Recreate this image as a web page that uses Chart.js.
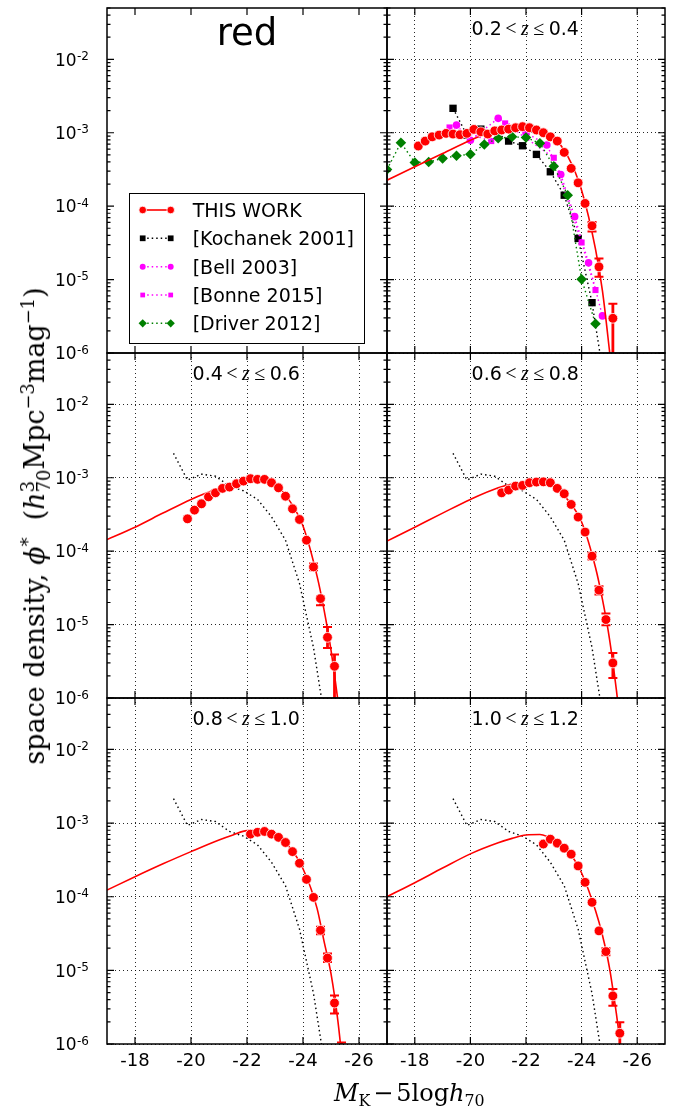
<!DOCTYPE html>
<html>
<head>
<meta charset="utf-8">
<title>red – luminosity function</title>
<script src="https://cdn.jsdelivr.net/npm/chart.js"></script>
<style>
html,body{margin:0;padding:0;background:#fff;}
#fig{position:relative;width:678px;height:1115px;overflow:hidden;background:#fff;}
#fig canvas{position:absolute;}
.axlab{position:absolute;font-family:'DejaVu Serif',serif;color:#000;white-space:nowrap;line-height:1;z-index:5;}
#ylab{font-size:27px;left:36px;top:526px;transform:translate(-50%,-50%) rotate(-90deg);}
#xlab{font-size:24px;left:334px;top:1081px;}
.sup{font-size:0.66em;position:relative;top:-0.55em;}
.sub{font-size:0.66em;position:relative;top:0.3em;}
.stk{display:inline-block;font-size:18px;line-height:16px;vertical-align:-6px;}
.op{margin:0 0.12em;}
</style>
</head>
<body>
<div id="fig">
  <div id="ylab" class="axlab">space density, <i>ϕ</i><span class="sup">*</span>&nbsp;&nbsp;(<i>h</i><span class="stk">3<br>70</span>Mpc<span class="sup">−3</span>mag<span class="sup">−1</span>)</div>
  <div id="xlab" class="axlab"><i>M</i><span class="sub">K</span><span class="op">−</span>5log<i>h</i><span class="sub">70</span></div>
</div>
<script>
// ================= DATA =================
const xTickValues = [-18, -20, -22, -24, -26];
const xTickLabels = ['-18', '-20', '-22', '-24', '-26'];
const yTickValues = [1e-6, 1e-5, 1e-4, 1e-3, 1e-2];
const yTickExponents = ['-6', '-5', '-4', '-3', '-2'];
const xLimits = [-27, -17];
const yLimits = [1e-6, 0.05];

const colourTitle = 'red';
const zLow  = ['0.2', '0.4', '0.6', '0.8', '1.0'];
const zHigh = ['0.4', '0.6', '0.8', '1.0', '1.2'];
const legendLabels = ['THIS WORK', '[Kochanek 2001]', '[Bell 2003]', '[Bonne 2015]', '[Driver 2012]'];

// ---- THIS WORK, 0.2 < z <= 0.4
const tw02X = [-18.125,-18.375,-18.625,-18.875,-19.125,-19.375,-19.625,-19.875,-20.125,-20.375,-20.625,-20.875,-21.125,-21.375,-21.625,-21.875,-22.125,-22.375,-22.625,-22.875,-23.125,-23.375,-23.625,-23.875,-24.125,-24.375,-24.625,-25.125];
const tw02Y = [6.6e-4,7.7e-4,8.8e-4,9.3e-4,9.8e-4,9.6e-4,9.4e-4,9.8e-4,1.11e-3,1.03e-3,9.6e-4,1.06e-3,1.09e-3,1.12e-3,1.17e-3,1.21e-3,1.17e-3,1.09e-3,1.0e-3,8.8e-4,7.7e-4,5.4e-4,3.27e-4,2.08e-4,1.09e-4,5.4e-5,1.49e-5,2.97e-6];
const err02X  = [-24.375, -24.625, -25.125];
const err02Hi = [6.1e-5, 1.93e-5, 4.7e-6];
const err02Lo = [4.5e-5, 1.09e-5, 5e-7];
const fit02X = [-17,-18,-19,-20,-20.5,-21,-21.5,-22,-22.5,-23,-23.5,-24,-24.5,-24.75,-25,-25.25];
const fit02Y = [2.26e-4,3.44e-4,5.2e-4,7.9e-4,9.4e-4,1.04e-3,1.1e-3,1.12e-3,1.06e-3,8.6e-4,4.8e-4,1.65e-4,2.6e-5,7e-6,1.1e-6,1.5e-7];

// ---- THIS WORK, 0.4 < z <= 0.6
const tw04X = [-19.875,-20.125,-20.375,-20.625,-20.875,-21.125,-21.375,-21.625,-21.875,-22.125,-22.375,-22.625,-22.875,-23.125,-23.375,-23.625,-23.875,-24.125,-24.375,-24.625,-24.875,-25.125];
const tw04Y = [2.76e-4,3.62e-4,4.42e-4,5.5e-4,6.24e-4,7.16e-4,7.46e-4,8.28e-4,9.0e-4,9.7e-4,9.5e-4,9.5e-4,8.55e-4,7.3e-4,5.6e-4,3.78e-4,2.7e-4,1.41e-4,6.1e-5,2.26e-5,6.7e-6,2.7e-6];
const err04X  = [-24.375, -24.625, -24.875, -25.125];
const err04Hi = [6.8e-5, 2.43e-5, 9.3e-6, 3.9e-6];
const err04Lo = [5.5e-5, 1.84e-5, 4.8e-6, 5e-7];
const fit04X = [-17,-18,-19,-20,-20.5,-21,-21.5,-22,-22.5,-23,-23.5,-24,-24.5,-24.75,-25,-25.25,-25.5];
const fit04Y = [1.44e-4,2.12e-4,3.3e-4,5.07e-4,6.1e-4,7.2e-4,8.3e-4,9.2e-4,9.5e-4,8.2e-4,5.0e-4,2.2e-4,4.6e-5,1.6e-5,4.5e-6,9e-7,1.5e-7];

// ---- THIS WORK, 0.6 < z <= 0.8
const tw06X = [-21.125,-21.375,-21.625,-21.875,-22.125,-22.375,-22.625,-22.875,-23.125,-23.375,-23.625,-23.875,-24.125,-24.375,-24.625,-24.875,-25.125];
const tw06Y = [6.24e-4,6.8e-4,7.7e-4,7.86e-4,8.55e-4,8.73e-4,8.8e-4,8.55e-4,7.16e-4,6.05e-4,4.33e-4,2.91e-4,1.82e-4,8.55e-5,2.94e-5,1.17e-5,3.0e-6];
const err06X  = [-24.375, -24.625, -24.875, -25.125];
const err06Hi = [9.5e-5, 3.33e-5, 1.41e-5, 4.1e-6];
const err06Lo = [7.7e-5, 2.57e-5, 9.8e-6, 1.87e-6];
const fit06X = [-17,-18,-19,-20,-21,-21.5,-22,-22.5,-23,-23.5,-24,-24.5,-24.75,-25,-25.25,-25.5];
const fit06Y = [1.37e-4,2.12e-4,3.3e-4,5.07e-4,7.3e-4,8.2e-4,8.7e-4,8.6e-4,7.5e-4,5.0e-4,2.5e-4,6.0e-5,2.2e-5,6.5e-6,1.3e-6,2e-7];

// ---- THIS WORK, 0.8 < z <= 1.0
const tw08X = [-22.125,-22.375,-22.625,-22.875,-23.125,-23.375,-23.625,-23.875,-24.125,-24.375,-24.625,-24.875,-25.125,-25.375];
const tw08Y = [7.08e-4,7.5e-4,7.7e-4,7.08e-4,6.4e-4,5.45e-4,4.1e-4,2.85e-4,1.72e-4,9.8e-5,3.5e-5,1.47e-5,3.6e-6,4e-7];
const err08X  = [-24.625, -24.875, -25.125, -25.375];
const err08Hi = [3.9e-5, 1.69e-5, 4.56e-6, 1.05e-6];
const err08Lo = [3.1e-5, 1.3e-5, 2.6e-6, 1e-7];
const fit08X = [-17,-18,-19,-20,-21,-21.5,-22,-22.5,-23,-23.5,-24,-24.5,-24.75,-25,-25.25,-25.5];
const fit08Y = [1.23e-4,1.87e-4,2.8e-4,4.1e-4,5.9e-4,6.9e-4,7.9e-4,7.8e-4,6.9e-4,4.8e-4,2.4e-4,7e-5,2.5e-5,9e-6,2e-6,2.5e-7];

// ---- THIS WORK, 1.0 < z <= 1.2
const tw10X = [-22.625,-22.875,-23.125,-23.375,-23.625,-23.875,-24.125,-24.375,-24.625,-24.875,-25.125,-25.375];
const tw10Y = [5.2e-4,6.05e-4,5.34e-4,4.56e-4,3.78e-4,2.62e-4,1.57e-4,8.4e-5,3.44e-5,1.8e-5,4.5e-6,1.4e-6];
const err10X  = [-24.875, -25.125, -25.375];
const err10Hi = [2.0e-5, 5.6e-6, 1.97e-6];
const err10Lo = [1.6e-5, 3.3e-6, 5e-7];
const fit10X = [-17,-18,-19,-20,-21,-21.5,-22,-22.5,-22.75,-23,-23.5,-24,-24.5,-24.75,-25,-25.25,-25.5];
const fit10Y = [1.0e-4,1.55e-4,2.45e-4,3.82e-4,5.4e-4,6.2e-4,6.9e-4,7.0e-4,6.6e-4,5.8e-4,4.2e-4,2.1e-4,6.5e-5,3.0e-5,1.1e-5,2.6e-6,5e-7];

// ---- literature (local) luminosity functions
const kochX = [-19.375,-19.875,-20.375,-20.875,-21.375,-21.875,-22.375,-22.875,-23.375,-23.875,-24.375,-24.875];
const kochY = [2.15e-3,9.3e-4,1.12e-3,1.05e-3,7.7e-4,6.65e-4,5.07e-4,2.94e-4,1.41e-4,3.63e-5,4.85e-6,3e-7];
const bellX = [-19.5,-20.0,-21.0,-22.0,-22.75,-23.25,-23.75,-24.25,-24.75];
const bellY = [1.27e-3,7.9e-4,1.57e-3,1.0e-3,6.8e-4,2.7e-4,7.2e-5,1.69e-5,3.2e-6];
const bonneX = [-19.25,-20.75,-21.25,-23.0,-24.0,-24.5];
const bonneY = [1.18e-3,7.7e-4,1.34e-3,4.56e-4,3.2e-5,7.2e-6];
const driverX = [-17.0,-17.5,-18.0,-18.5,-19.0,-19.5,-20.0,-20.5,-21.0,-21.5,-22.0,-22.5,-23.0,-23.5,-24.0,-24.5];
const driverY = [3.16e-4,7.3e-4,3.94e-4,4.0e-4,4.47e-4,4.86e-4,5.1e-4,6.9e-4,8.4e-4,8.8e-4,8.6e-4,7.2e-4,3.5e-4,1.41e-4,1.01e-5,2.5e-6];

// ================= STYLE / LAYOUT =================
const RED = '#ff0000', MAG = '#ff00ff', GRN = '#008000', BLK = '#000000';
const SERIES = [
  {color: RED, pointStyle: 'circle',  r: 4.9, edge: '#ffffff', edgeW: 0.8, dash: [],       lw: 1.6},
  {color: BLK, pointStyle: 'rect',    r: 5.2, edge: BLK,       edgeW: 0,   dash: [1.5, 3], lw: 1.4},
  {color: MAG, pointStyle: 'circle',  r: 3.8, edge: MAG,       edgeW: 0,   dash: [1.5, 3], lw: 1.4},
  {color: MAG, pointStyle: 'rect',    r: 4.3, edge: MAG,       edgeW: 0,   dash: [1.5, 3], lw: 1.4},
  {color: GRN, pointStyle: 'rectRot', r: 5.3, edge: GRN,       edgeW: 0,   dash: [1.5, 3], lw: 1.4}
];
const LEGEND_MARKER_SCALE = 0.78;
const COLS = [{x0: 107, x1: 387}, {x0: 387, x1: 665}];
const ROWS = [{y0: 8, y1: 353}, {y0: 353, y1: 698}, {y0: 698, y1: 1044}];
const PAD = {left: 75, right: 12, top: 10, bottom: 45};

const PANELS = [
  {col: 0, row: 0, legend: true},
  {col: 1, row: 0, z: 0, tw: [tw02X, tw02Y], err: [err02X, err02Hi, err02Lo], fit: [fit02X, fit02Y], lit: true},
  {col: 0, row: 1, z: 1, tw: [tw04X, tw04Y], err: [err04X, err04Hi, err04Lo], fit: [fit04X, fit04Y]},
  {col: 1, row: 1, z: 2, tw: [tw06X, tw06Y], err: [err06X, err06Hi, err06Lo], fit: [fit06X, fit06Y]},
  {col: 0, row: 2, z: 3, tw: [tw08X, tw08Y], err: [err08X, err08Hi, err08Lo], fit: [fit08X, fit08Y]},
  {col: 1, row: 2, z: 4, tw: [tw10X, tw10Y], err: [err10X, err10Hi, err10Lo], fit: [fit10X, fit10Y]}
];

function pts(xs, ys) { return xs.map((x, i) => ({x: x, y: ys[i]})); }

function litDataset(label, xs, ys, s, markers) {
  return {
    label: label, data: pts(xs, ys),
    borderColor: s.color, borderWidth: s.lw, borderDash: s.dash,
    pointStyle: s.pointStyle, pointRadius: markers ? s.r : 0,
    pointBackgroundColor: s.color, pointBorderWidth: 0, fill: false, tension: 0
  };
}

function buildDatasets(p) {
  if (p.legend) return [];
  const s0 = SERIES[0];
  const ds = [];
  ds.push({label: legendLabels[0], data: pts(p.tw[0], p.tw[1]), showLine: false,
           pointStyle: 'circle', pointRadius: s0.r, pointBackgroundColor: s0.color,
           pointBorderColor: s0.edge, pointBorderWidth: s0.edgeW});
  ds.push({label: 'fit', data: pts(p.fit[0], p.fit[1]), borderColor: s0.color, borderWidth: s0.lw,
           pointRadius: 0, fill: false, cubicInterpolationMode: 'monotone'});
  if (p.lit) {
    ds.push(litDataset(legendLabels[4], driverX, driverY, SERIES[4], true));
    ds.push(litDataset(legendLabels[2], bellX, bellY, SERIES[2], true));
    ds.push(litDataset(legendLabels[3], bonneX, bonneY, SERIES[3], true));
  }
  ds.push(litDataset(legendLabels[1], kochX, kochY, SERIES[1], !!p.lit));
  return ds;
}

function drawMarker(ctx, s, x, y, k) {
  const r = s.r * k;
  ctx.beginPath();
  if (s.pointStyle === 'circle') ctx.arc(x, y, r, 0, 2 * Math.PI);
  else if (s.pointStyle === 'rect') { const h = r * Math.SQRT1_2; ctx.rect(x - h, y - h, 2 * h, 2 * h); }
  else { ctx.moveTo(x - r, y); ctx.lineTo(x, y - r); ctx.lineTo(x + r, y); ctx.lineTo(x, y + r); ctx.closePath(); }
  ctx.fillStyle = s.color; ctx.fill();
  if (s.edgeW) { ctx.lineWidth = s.edgeW; ctx.strokeStyle = s.edge; ctx.stroke(); }
}

function drawLegend(ctx, a) {
  const bx = a.left + 22, by = a.top + 185, bw = 235, bh = 150;
  ctx.fillStyle = '#fff'; ctx.fillRect(bx, by, bw, bh);
  ctx.strokeStyle = BLK; ctx.lineWidth = 1; ctx.setLineDash([]);
  ctx.strokeRect(bx + 0.5, by + 0.5, bw, bh);
  const rowsY = [202, 230.3, 258.7, 287, 315.3];
  legendLabels.forEach((lab, i) => {
    const s = SERIES[i];
    const y = a.top + rowsY[i];
    const x1 = a.left + 35.7, x2 = a.left + 63.7;
    ctx.save();
    ctx.strokeStyle = s.color; ctx.lineWidth = s.lw; ctx.setLineDash(s.dash);
    ctx.beginPath(); ctx.moveTo(x1, y); ctx.lineTo(x2, y); ctx.stroke();
    ctx.restore();
    drawMarker(ctx, s, x1, y, LEGEND_MARKER_SCALE); drawMarker(ctx, s, x2, y, LEGEND_MARKER_SCALE);
    ctx.fillStyle = BLK; ctx.font = '19px "DejaVu Sans"'; ctx.textAlign = 'left'; ctx.textBaseline = 'alphabetic';
    ctx.fillText(lab, a.left + 85.7, y + 6.9);
  });
}

const deco = {
  id: 'deco',
  beforeDatasetsDraw(chart) {
    const p = PANELS[+chart.canvas.dataset.panel];
    if (!p.err) return;
    const ctx = chart.ctx, a = chart.chartArea, xs = chart.scales.x, ys = chart.scales.y;
    ctx.save();
    ctx.beginPath(); ctx.rect(a.left, a.top, a.right - a.left, a.bottom - a.top); ctx.clip();
    ctx.strokeStyle = RED;
    p.err[0].forEach((xv, i) => {
      const px = xs.getPixelForValue(xv);
      const hi = ys.getPixelForValue(p.err[1][i]);
      const lo = ys.getPixelForValue(p.err[2][i]);
      ctx.lineWidth = 2.8; ctx.beginPath(); ctx.moveTo(px, hi); ctx.lineTo(px, lo); ctx.stroke();
      ctx.lineWidth = 2; ctx.beginPath();
      ctx.moveTo(px - 4.5, hi); ctx.lineTo(px + 4.5, hi);
      ctx.moveTo(px - 4.5, lo); ctx.lineTo(px + 4.5, lo); ctx.stroke();
    });
    ctx.restore();
  },
  afterDatasetsDraw(chart) {
    const p = PANELS[+chart.canvas.dataset.panel];
    const ctx = chart.ctx, a = chart.chartArea, xs = chart.scales.x, ys = chart.scales.y;
    ctx.save();
    ctx.setLineDash([]);
    ctx.strokeStyle = BLK; ctx.lineWidth = 1.5;
    ctx.strokeRect(a.left, a.top, a.right - a.left, a.bottom - a.top);
    ctx.lineWidth = 1.2; ctx.beginPath();
    xTickValues.forEach(v => {
      const px = xs.getPixelForValue(v);
      ctx.moveTo(px, a.bottom); ctx.lineTo(px, a.bottom - 7);
      ctx.moveTo(px, a.top); ctx.lineTo(px, a.top + 7);
    });
    for (let e = -6; e <= -2; e++) {
      for (let m = 1; m <= 9; m++) {
        const v = m * Math.pow(10, e);
        if (v > yLimits[1] * 1.0001) continue;
        const py = ys.getPixelForValue(v);
        const L = m === 1 ? 7 : 3.5;
        ctx.moveTo(a.left, py); ctx.lineTo(a.left + L, py);
        ctx.moveTo(a.right, py); ctx.lineTo(a.right - L, py);
      }
    }
    ctx.stroke();
    ctx.fillStyle = BLK; ctx.textBaseline = 'alphabetic';
    if (p.col === 0) {
      yTickValues.forEach((v, i) => {
        const py = ys.getPixelForValue(v);
        const right = a.left - 18;
        ctx.font = '12px "DejaVu Sans"';
        const sw = ctx.measureText(yTickExponents[i]).width;
        ctx.textAlign = 'left';
        ctx.fillText(yTickExponents[i], right - sw, py + 0.5);
        ctx.font = '17px "DejaVu Sans"';
        ctx.textAlign = 'right';
        ctx.fillText('10', right - sw - 0.5, py + 6.2);
      });
    }
    if (p.row === 2) {
      ctx.font = '18px "DejaVu Sans"'; ctx.textAlign = 'center';
      xTickValues.forEach((v, i) => {
        ctx.fillText(xTickLabels[i], xs.getPixelForValue(v), a.bottom + 21.5);
      });
    }
    const cx = (a.left + a.right) / 2;
    if (p.legend) {
      ctx.font = '37px "DejaVu Sans"'; ctx.textAlign = 'center';
      ctx.fillText(colourTitle, cx, a.top + 37);
      drawLegend(ctx, a);
    } else {
      const by = a.top + 27;
      const parts = [
        [zLow[p.z], '19px "DejaVu Sans"', -39.3],
        ['<', '20px "Liberation Serif"', -15.2],
        ['z', 'italic 20px "Liberation Serif"', -1.2],
        ['≤', '20px "Liberation Serif"', 12.8],
        [zHigh[p.z], '19px "DejaVu Sans"', 37.8]
      ];
      ctx.textAlign = 'center';
      parts.forEach(([t, f, dx]) => { ctx.font = f; ctx.fillText(t, cx + dx, by); });
    }
    ctx.restore();
  }
};

const fig = document.getElementById('fig');
PANELS.forEach((p, idx) => {
  const c = COLS[p.col], r = ROWS[p.row];
  const W = c.x1 - c.x0 + PAD.left + PAD.right;
  const H = r.y1 - r.y0 + PAD.top + PAD.bottom;
  const cv = document.createElement('canvas');
  cv.width = W; cv.height = H;
  cv.style.left = (c.x0 - PAD.left) + 'px';
  cv.style.top = (r.y0 - PAD.top) + 'px';
  cv.style.width = W + 'px'; cv.style.height = H + 'px';
  cv.dataset.panel = idx;
  fig.appendChild(cv);
  const gridOn = !p.legend;
  new Chart(cv.getContext('2d'), {
    type: 'line',
    data: {datasets: buildDatasets(p)},
    options: {
      responsive: false, maintainAspectRatio: false, animation: false, devicePixelRatio: 1, events: [],
      layout: {padding: {left: PAD.left, right: PAD.right, top: PAD.top, bottom: PAD.bottom}},
      plugins: {legend: {display: false}, tooltip: {enabled: false}, title: {display: false}},
      scales: {
        x: {
          type: 'linear', min: xLimits[0], max: xLimits[1], reverse: true,
          afterBuildTicks: s => { s.ticks = xTickValues.map(v => ({value: v})); },
          afterFit: s => { s.height = 0; },
          ticks: {display: false},
          grid: {display: gridOn, color: 'rgba(0,0,0,0.85)', lineWidth: 1, drawTicks: false},
          border: {display: false, dash: [1, 3]}
        },
        y: {
          type: 'logarithmic', min: yLimits[0], max: yLimits[1],
          afterBuildTicks: s => { s.ticks = yTickValues.map(v => ({value: v})); },
          afterFit: s => { s.width = 0; },
          ticks: {display: false},
          grid: {display: gridOn, color: 'rgba(0,0,0,0.85)', lineWidth: 1, drawTicks: false},
          border: {display: false, dash: [1, 3]}
        }
      }
    },
    plugins: [deco]
  });
});
</script>
</body>
</html>
